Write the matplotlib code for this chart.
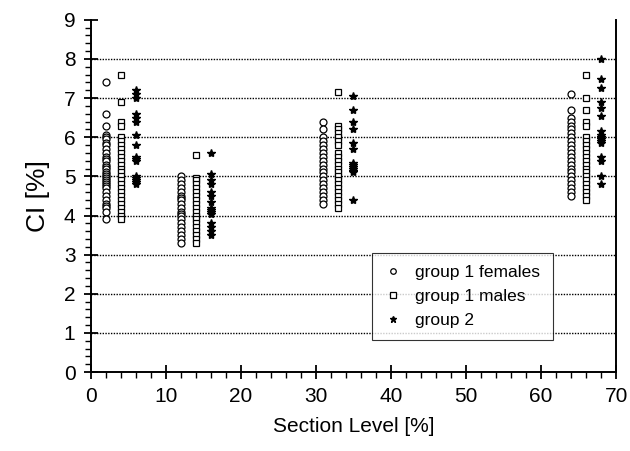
import numpy as np
import matplotlib.pyplot as plt
from matplotlib.ticker import MultipleLocator

plt.rcParams['font.family'] = ['Liberation Sans', 'DejaVu Sans']

# x positions of each group's column
fem_x = [2, 12, 31, 64]
male_x = [4, 14, 33, 66]
g2_x = [6, 16, 35, 68]

# CI values per column
fem_ci = [
    [7.4, 6.6, 6.3, 6.05, 6.0, 5.95, 5.85, 5.8, 5.7, 5.6, 5.5, 5.45, 5.4, 5.3, 5.25, 5.2, 5.1,
     5.05, 5.0, 4.95, 4.9, 4.85, 4.8, 4.75, 4.7, 4.6, 4.5, 4.4, 4.3, 4.25, 4.2, 4.1, 3.9],
    [5.0, 4.9, 4.8, 4.7, 4.6, 4.5, 4.45, 4.4, 4.3, 4.2, 4.1, 4.05, 4.0, 3.9, 3.8, 3.7, 3.6,
     3.5, 3.4, 3.3],
    [6.4, 6.2, 6.0, 5.9, 5.8, 5.7, 5.6, 5.5, 5.4, 5.3, 5.2, 5.1, 5.0, 4.9, 4.8, 4.7, 4.6,
     4.5, 4.4, 4.3],
    [7.1, 6.7, 6.5, 6.4, 6.3, 6.2, 6.1, 6.0, 5.9, 5.8, 5.7, 5.6, 5.5, 5.4, 5.3, 5.2, 5.1,
     5.0, 4.9, 4.8, 4.7, 4.6, 4.5],
]
male_ci = [
    [7.6, 6.9, 6.4, 6.3, 6.0, 5.9, 5.8, 5.7, 5.6, 5.5, 5.4, 5.3, 5.2, 5.1, 5.0, 4.9, 4.8,
     4.7, 4.6, 4.5, 4.4, 4.3, 4.2, 4.1, 4.0, 3.9],
    [5.55, 4.95, 4.9, 4.8, 4.7, 4.6, 4.5, 4.4, 4.3, 4.2, 4.1, 4.0, 3.9, 3.8, 3.7, 3.6, 3.5,
     3.4, 3.3],
    [7.15, 6.3, 6.2, 6.1, 6.0, 5.9, 5.8, 5.6, 5.5, 5.4, 5.3, 5.2, 5.1, 5.0, 4.9, 4.8, 4.7,
     4.6, 4.5, 4.4, 4.3, 4.2],
    [7.6, 7.0, 6.7, 6.4, 6.3, 6.0, 5.9, 5.8, 5.7, 5.6, 5.5, 5.4, 5.3, 5.2, 5.1, 5.0, 4.9,
     4.8, 4.7, 4.6, 4.5, 4.4],
]
g2_ci = [
    [7.2, 7.1, 7.0, 6.6, 6.5, 6.4, 6.05, 5.8, 5.5, 5.45, 5.4, 5.0, 4.95, 4.9, 4.85, 4.8],
    [5.6, 5.05, 4.9, 4.8, 4.6, 4.5, 4.35, 4.2, 4.15, 4.1, 4.05, 3.8, 3.7, 3.6, 3.5],
    [7.05, 6.7, 6.4, 6.2, 5.85, 5.7, 5.35, 5.3, 5.25, 5.2, 5.15, 5.1, 4.4],
    [8.0, 7.5, 7.25, 6.9, 6.75, 6.55, 6.15, 6.05, 6.0, 5.95, 5.9, 5.85, 5.5, 5.4, 5.0, 4.8],
]


def flat(xs, ys):
    xx, yy = [], []
    for x, col in zip(xs, ys):
        xx += [x] * len(col)
        yy += col
    return xx, yy


fig = plt.figure(figsize=(6.3, 4.51), dpi=100)
ax = fig.add_axes([0.144, 0.175, 0.834, 0.781])

x, y = flat(fem_x, fem_ci)
ax.plot(x, y, 'o', ms=5, mfc='white', mec='black', mew=0.9, label='group 1 females')
x, y = flat(male_x, male_ci)
ax.plot(x, y, 's', ms=5, mfc='white', mec='black', mew=0.9, label='group 1 males')
x, y = flat(g2_x, g2_ci)
ax.plot(x, y, '*', ms=6, color='black', label='group 2')

for v in range(1, 9):
    ax.axhline(v, color='black', ls=(0, (1, 1)), lw=1.0, zorder=0)

ax.set_xlim(0, 70)
ax.set_ylim(0, 9)
ax.xaxis.set_major_locator(MultipleLocator(10))
ax.xaxis.set_minor_locator(MultipleLocator(2))
ax.yaxis.set_major_locator(MultipleLocator(1))
ax.yaxis.set_minor_locator(MultipleLocator(0.2))
ax.tick_params(which='major', direction='inout', length=10, width=1.3, labelsize=15, pad=6)
ax.tick_params(which='minor', direction='out', length=4, width=1)
ax.spines['top'].set_visible(False)
for s in ['left', 'bottom', 'right']:
    ax.spines[s].set_linewidth(1.4)

ax.set_xlabel('Section Level [%]', fontsize=15, labelpad=8)
ax.set_ylabel('CI [%]', fontsize=19, labelpad=10)

leg = ax.legend(loc='lower left', bbox_to_anchor=(0.535, 0.091, 0.345, 0.241), mode='expand',
                fontsize=12.5, frameon=True, fancybox=False, handlelength=1.0,
                handletextpad=0.8, markerscale=0.8,
                borderaxespad=0, labelspacing=0.5, borderpad=0.7)
leg.get_frame().set_edgecolor('black')
leg.get_frame().set_linewidth(0.8)

fig.savefig('out.png', dpi=100)
